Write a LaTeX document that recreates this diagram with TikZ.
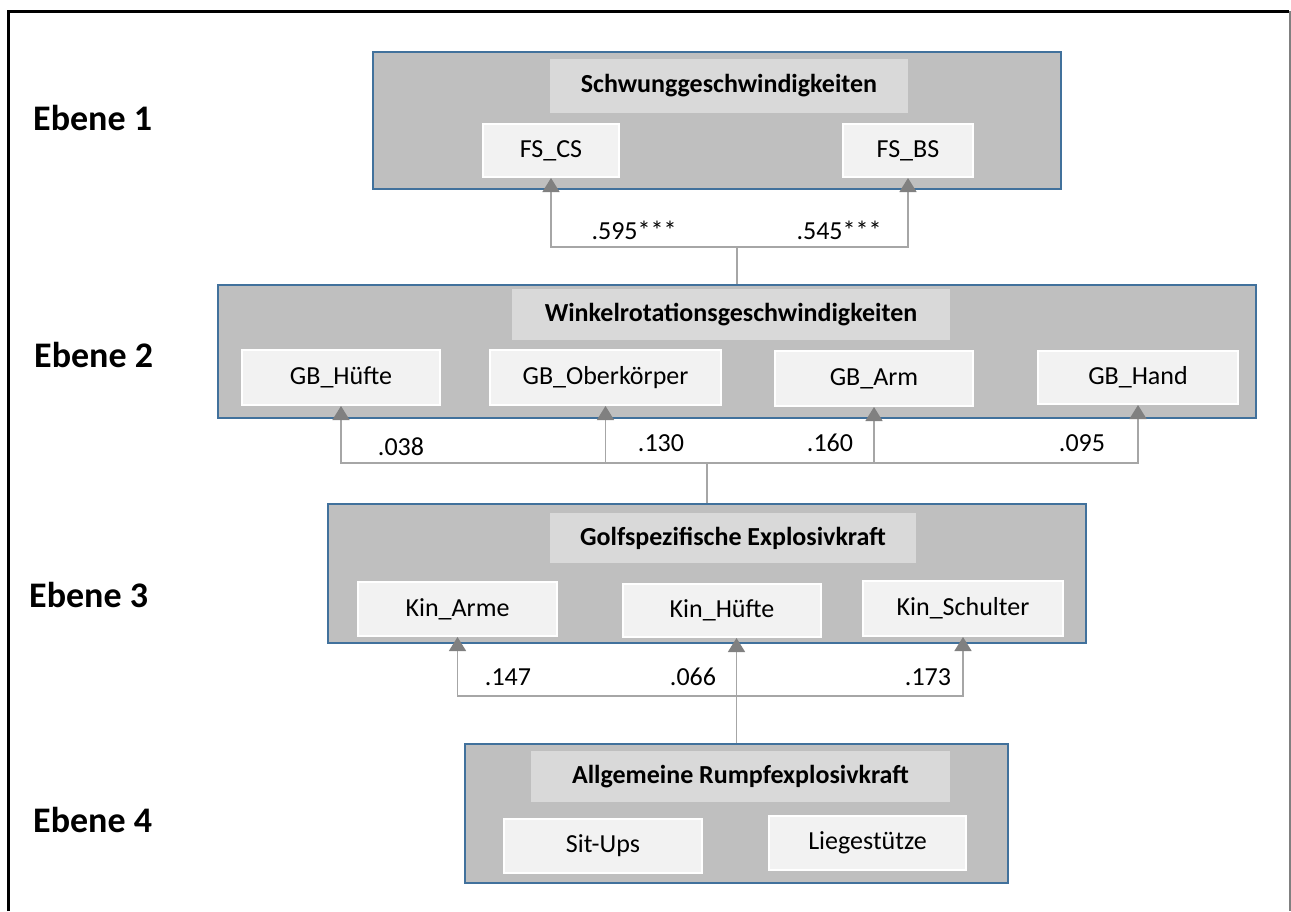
\documentclass[tikz,border=0pt]{standalone}
\usepackage{fontspec}
\setmainfont{Carlito}
\usetikzlibrary{arrows.meta}
\definecolor{outerfill}{HTML}{BFBFBF}
\definecolor{outerdraw}{HTML}{41719C}
\definecolor{titlefill}{HTML}{D9D9D9}
\definecolor{innerfill}{HTML}{F2F2F2}
\definecolor{linegray}{HTML}{A6A6A6}
\definecolor{tipgray}{HTML}{808080}
\tikzset{
  outerbox/.style={draw=outerdraw, line width=2.5pt, fill=outerfill, inner sep=0pt},
  titlebox/.style={fill=titlefill, inner sep=0pt, font=\fontsize{26}{30}\selectfont\bfseries},
  innerbox/.style={draw=white, line width=2pt, fill=innerfill, inner sep=0pt, font=\fontsize{26}{30}\selectfont},
  lbl/.style={font=\fontsize{26}{30}\selectfont, inner sep=0pt},
  ebene/.style={font=\fontsize{36}{40}\selectfont\bfseries, anchor=base west, inner sep=0pt},
  conn/.style={draw=linegray, line width=1.5pt},
  arr/.style={conn, -{Triangle[width=17pt,length=14pt,color=tipgray]}}
}
\begin{document}
\begin{tikzpicture}[x=1pt,y=-1pt]
\useasboundingbox (0,0) rectangle (1291,911);
% frame
\draw[black, line width=3pt] (8,911) -- (8,11) -- (1289,11);
\draw[gray, line width=2pt] (1290,11) -- (1290,911);

% level labels
\node[ebene] (e1) at (33,130) {Ebene 1};
\node[ebene] (e2) at (34,367) {Ebene 2};
\node[ebene] (e3) at (29,607) {Ebene 3};
\node[ebene] (e4) at (33,832) {Ebene 4};

% Level 1
\node[outerbox, minimum width=688pt, minimum height=137pt] (b1) at (717,120.5) {};
\node[titlebox, minimum width=358pt, minimum height=54pt] (t1) at (729,86) {Schwunggeschwindigkeiten};
\node[innerbox, minimum width=136pt, minimum height=53pt] (fscs) at (551,150.5) {FS\_CS};
\node[innerbox, minimum width=130pt, minimum height=53pt] (fsbs) at (908,150.5) {FS\_BS};

% Level 2
\node[outerbox, minimum width=1038pt, minimum height=133pt] (b2) at (737,351.5) {};
\node[titlebox, minimum width=438pt, minimum height=51pt] (t2) at (731,314.5) {Winkelrotationsgeschwindigkeiten};
\node[innerbox, minimum width=198pt, minimum height=55pt] (gbh) at (341,377.5) {GB\_Hüfte};
\node[innerbox, minimum width=231pt, minimum height=55pt] (gbo) at (605.5,377.5) {GB\_Oberkörper};
\node[innerbox, minimum width=198pt, minimum height=55pt] (gba) at (874,378.5) {GB\_Arm};
\node[innerbox, minimum width=200pt, minimum height=53pt] (gbha) at (1138,377.5) {GB\_Hand};

% Level 3
\node[outerbox, minimum width=758pt, minimum height=139pt] (b3) at (707,573.5) {};
\node[titlebox, minimum width=366pt, minimum height=50pt] (t3) at (733,538) {Golfspezifische Explosivkraft};
\node[innerbox, minimum width=199pt, minimum height=54pt] (kina) at (457.5,609) {Kin\_Arme};
\node[innerbox, minimum width=198pt, minimum height=53pt] (kinh) at (722,610.5) {Kin\_Hüfte};
\node[innerbox, minimum width=200pt, minimum height=55pt] (kins) at (963,608.5) {Kin\_Schulter};

% Level 4
\node[outerbox, minimum width=543pt, minimum height=139pt] (b4) at (736.5,813.5) {};
\node[titlebox, minimum width=419pt, minimum height=51pt] (t4) at (740.5,776.5) {Allgemeine Rumpfexplosivkraft};
\node[innerbox, minimum width=198pt, minimum height=54pt] (situps) at (603,846) {Sit-Ups};
\node[innerbox, minimum width=197pt, minimum height=54pt] (liege) at (867.5,843) {Liegestütze};

% connectors level 2 -> 1
\draw[conn] (b2.north) -- ++(0,-37) coordinate (j1);
\draw[arr] (j1) -| (fscs.south);
\draw[arr] (j1) -| (fsbs.south);
\node[lbl] (l595) at (634,230) {.595***};
\node[lbl] (l545) at (839,230) {.545***};

% connectors level 3 -> 2
\draw[conn] (b3.north) -- ++(0,-40) coordinate (j2);
\draw[arr] (j2) -| (gbh.south);
\draw[arr] (j2) -| (gbo.south);
\draw[arr] (j2) -| (gba.south);
\draw[arr] (j2) -| (gbha.south);
\node[lbl] (l038) at (401,447) {.038};
\node[lbl] (l130) at (661,443) {.130};
\node[lbl] (l160) at (830,443) {.160};
\node[lbl] (l095) at (1082,443) {.095};

% connectors level 4 -> 3
\draw[conn] (b4.north) -- ++(0,-47) coordinate (j3);
\draw[arr] (j3) -| (kina.south);
\draw[arr] (j3) -- (j3 |- kinh.south);
\draw[arr] (j3) -| (kins.south);
\node[lbl] (l147) at (508,677) {.147};
\node[lbl] (l066) at (693,677) {.066};
\node[lbl] (l173) at (928,677) {.173};
\end{tikzpicture}
\end{document}
